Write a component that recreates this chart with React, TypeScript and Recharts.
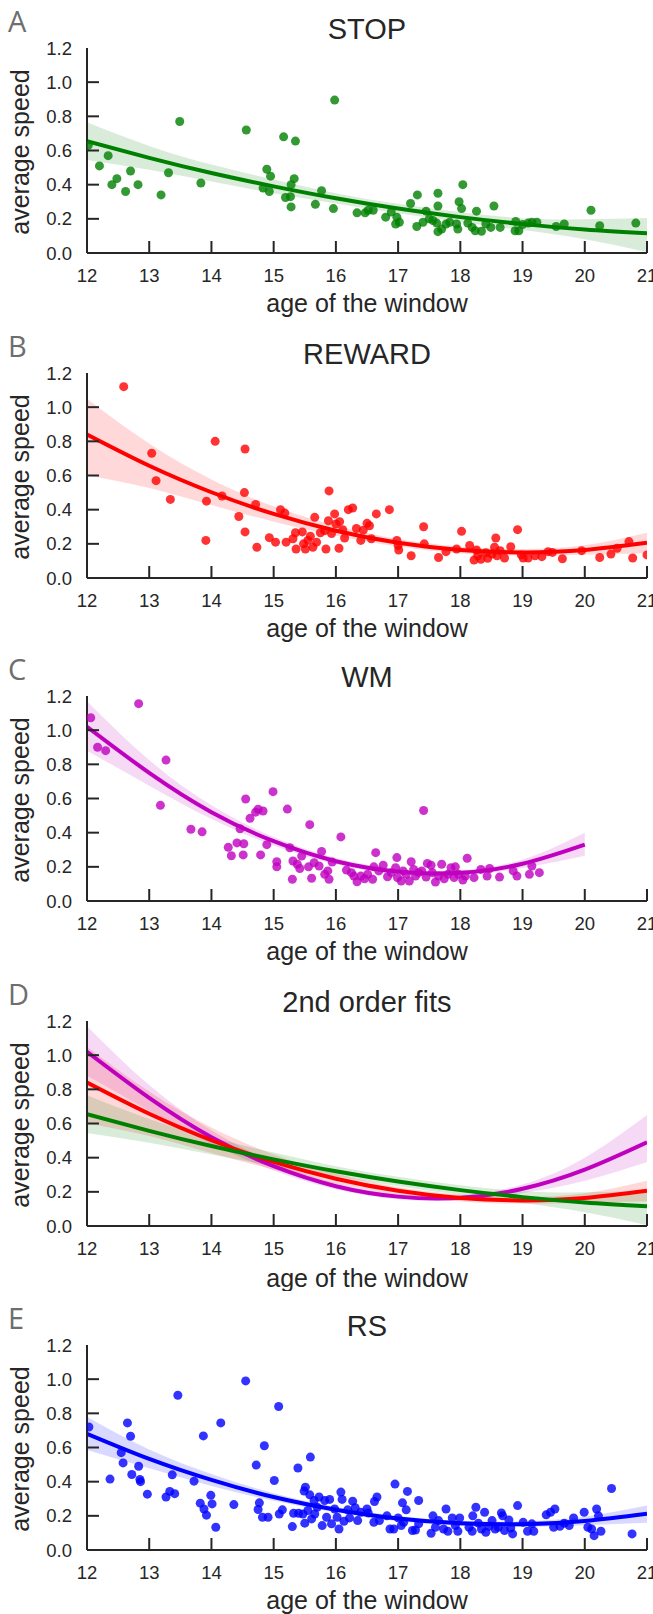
import { ComposedChart, Scatter, Line, Area, XAxis, YAxis } from 'recharts';

// ---- axes ----
const xTicks = [12, 13, 14, 15, 16, 17, 18, 19, 20, 21];
const yTicks = [0, 0.2, 0.4, 0.6, 0.8, 1.0, 1.2];
const fitAges = [12, 13, 14, 15, 16, 17, 18, 19, 20, 21];

// ---- scatter points [age, average speed] ----
const stopPoints = [
  [12.02, 0.63], [12.2, 0.51], [12.34, 0.57], [12.4, 0.4], [12.48, 0.435], [12.62, 0.36], [12.7, 0.48],
  [12.82, 0.4], [13.19, 0.34], [13.31, 0.47], [13.49, 0.77], [13.83, 0.41], [14.56, 0.72], [14.83, 0.38],
  [14.89, 0.49], [14.95, 0.45], [14.93, 0.36], [15.16, 0.68], [15.35, 0.655], [15.19, 0.325], [15.27, 0.33],
  [15.28, 0.4], [15.33, 0.435], [15.28, 0.27], [15.67, 0.285], [15.77, 0.365], [15.96, 0.26], [15.98, 0.895],
  [16.34, 0.235], [16.47, 0.235], [16.52, 0.25], [16.6, 0.25], [16.8, 0.21], [16.89, 0.24], [16.98, 0.21],
  [16.96, 0.17], [17.02, 0.18], [17.2, 0.29], [17.3, 0.155], [17.31, 0.34], [17.4, 0.18], [17.45, 0.245],
  [17.5, 0.2], [17.56, 0.19], [17.62, 0.175], [17.64, 0.35], [17.64, 0.275], [17.64, 0.125], [17.7, 0.14],
  [17.77, 0.17], [17.83, 0.18], [17.94, 0.17], [17.96, 0.14], [17.98, 0.3], [18.02, 0.26], [18.04, 0.4],
  [18.12, 0.175], [18.19, 0.15], [18.26, 0.245], [18.24, 0.13], [18.34, 0.127], [18.41, 0.17], [18.49, 0.15],
  [18.54, 0.275], [18.64, 0.15], [18.88, 0.13], [18.89, 0.185], [18.94, 0.13], [19.0, 0.167], [19.09, 0.175],
  [19.15, 0.18], [19.23, 0.18], [19.54, 0.155], [19.67, 0.17], [20.1, 0.25], [20.24, 0.16], [20.82, 0.175],
];

const rewardPoints = [
  [12.59, 1.12], [13.04, 0.73], [13.11, 0.57], [13.34, 0.46], [13.91, 0.22], [13.92, 0.45], [14.06, 0.8],
  [14.17, 0.48], [14.44, 0.36], [14.54, 0.755], [14.53, 0.5], [14.54, 0.27], [14.71, 0.43], [14.73, 0.18],
  [14.93, 0.236], [15.03, 0.21], [15.11, 0.4], [15.18, 0.38], [15.2, 0.21], [15.31, 0.23], [15.35, 0.265],
  [15.36, 0.17], [15.46, 0.27], [15.48, 0.2], [15.55, 0.22], [15.51, 0.17], [15.59, 0.245], [15.63, 0.18],
  [15.66, 0.355], [15.69, 0.21], [15.75, 0.265], [15.82, 0.277], [15.84, 0.17], [15.88, 0.335], [15.89, 0.51],
  [15.93, 0.26], [15.98, 0.375], [16.0, 0.316], [16.06, 0.33], [16.05, 0.174], [16.11, 0.283], [16.14, 0.234],
  [16.2, 0.4], [16.27, 0.41], [16.33, 0.29], [16.4, 0.22], [16.44, 0.28], [16.5, 0.32], [16.54, 0.306],
  [16.57, 0.23], [16.65, 0.375], [16.86, 0.4], [16.98, 0.22], [17.0, 0.19], [17.01, 0.164], [17.21, 0.13],
  [17.41, 0.3], [17.42, 0.2], [17.65, 0.12], [17.77, 0.154], [17.94, 0.17], [18.02, 0.273], [18.15, 0.19],
  [18.22, 0.105], [18.26, 0.164], [18.28, 0.13], [18.33, 0.11], [18.41, 0.148], [18.44, 0.115], [18.51, 0.14],
  [18.55, 0.18], [18.57, 0.234], [18.59, 0.13], [18.64, 0.16], [18.71, 0.117], [18.81, 0.183], [18.92, 0.283],
  [18.98, 0.135], [19.01, 0.117], [19.09, 0.117], [19.2, 0.13], [19.31, 0.125], [19.41, 0.154], [19.48, 0.15],
  [19.64, 0.113], [19.95, 0.16], [20.24, 0.12], [20.42, 0.14], [20.52, 0.174], [20.71, 0.213], [20.77, 0.117],
  [21.0, 0.135],
];

const wmPoints = [
  [12.06, 1.073], [12.17, 0.9], [12.3, 0.88], [12.83, 1.155], [13.18, 0.56], [13.27, 0.825], [13.67, 0.42],
  [13.85, 0.405], [14.27, 0.314], [14.32, 0.265], [14.41, 0.34], [14.46, 0.423], [14.52, 0.335], [14.51, 0.27],
  [14.55, 0.597], [14.62, 0.484], [14.71, 0.52], [14.75, 0.537], [14.83, 0.527], [14.79, 0.27], [14.89, 0.33],
  [14.99, 0.64], [15.05, 0.23], [15.05, 0.2], [15.22, 0.538], [15.26, 0.312], [15.31, 0.234], [15.3, 0.127],
  [15.38, 0.215], [15.42, 0.19], [15.45, 0.263], [15.56, 0.2], [15.58, 0.447], [15.61, 0.133], [15.65, 0.224],
  [15.73, 0.205], [15.77, 0.29], [15.82, 0.156], [15.87, 0.176], [15.89, 0.127], [15.94, 0.228], [16.08, 0.375],
  [16.17, 0.181], [16.25, 0.166], [16.29, 0.146], [16.34, 0.113], [16.4, 0.146], [16.46, 0.13], [16.51, 0.156],
  [16.59, 0.127], [16.61, 0.2], [16.64, 0.283], [16.69, 0.176], [16.76, 0.209], [16.83, 0.142], [16.89, 0.166],
  [16.96, 0.195], [16.98, 0.254], [16.99, 0.137], [17.05, 0.117], [17.08, 0.176], [17.13, 0.156], [17.18, 0.117],
  [17.21, 0.23], [17.25, 0.185], [17.28, 0.146], [17.33, 0.166], [17.38, 0.176], [17.41, 0.53], [17.45, 0.14],
  [17.47, 0.22], [17.53, 0.209], [17.55, 0.166], [17.6, 0.111], [17.65, 0.146], [17.7, 0.215], [17.74, 0.13],
  [17.8, 0.156], [17.85, 0.195], [17.9, 0.137], [17.92, 0.2], [17.97, 0.156], [18.04, 0.123], [18.08, 0.146],
  [18.11, 0.25], [18.22, 0.137], [18.33, 0.185], [18.43, 0.146], [18.47, 0.19], [18.63, 0.14], [18.85, 0.176],
  [18.91, 0.146], [19.11, 0.156], [19.15, 0.205], [19.27, 0.166],
];

const rsPoints = [
  [12.03, 0.72], [12.37, 0.415], [12.55, 0.57], [12.58, 0.51], [12.65, 0.744], [12.7, 0.666], [12.72, 0.442],
  [12.83, 0.49], [12.85, 0.413], [12.86, 0.4], [12.97, 0.327], [13.27, 0.31], [13.33, 0.343], [13.37, 0.44],
  [13.41, 0.33], [13.46, 0.906], [13.72, 0.403], [13.82, 0.274], [13.87, 0.668], [13.88, 0.24], [13.92, 0.204],
  [13.99, 0.32], [14.01, 0.27], [14.07, 0.133], [14.15, 0.744], [14.36, 0.266], [14.55, 0.99], [14.72, 0.497],
  [14.75, 0.237], [14.77, 0.276], [14.82, 0.192], [14.85, 0.61], [14.91, 0.192], [15.01, 0.407], [15.08, 0.84],
  [15.09, 0.211], [15.14, 0.235], [15.3, 0.137], [15.32, 0.215], [15.39, 0.48], [15.4, 0.215], [15.47, 0.211],
  [15.49, 0.345], [15.5, 0.157], [15.51, 0.368], [15.55, 0.231], [15.58, 0.323], [15.59, 0.544], [15.61, 0.182],
  [15.65, 0.29], [15.66, 0.211], [15.7, 0.25], [15.73, 0.31], [15.78, 0.143], [15.82, 0.29], [15.85, 0.192],
  [15.9, 0.296], [15.93, 0.153], [15.98, 0.24], [16.02, 0.192], [16.05, 0.123], [16.08, 0.339], [16.1, 0.296],
  [16.13, 0.168], [16.19, 0.235], [16.22, 0.188], [16.27, 0.286], [16.31, 0.247], [16.35, 0.172], [16.4, 0.221],
  [16.5, 0.24], [16.52, 0.217], [16.61, 0.162], [16.62, 0.284], [16.66, 0.31], [16.7, 0.172], [16.82, 0.2],
  [16.87, 0.123], [16.93, 0.123], [16.95, 0.386], [17.0, 0.188], [17.05, 0.143], [17.07, 0.276], [17.09, 0.162],
  [17.13, 0.235], [17.15, 0.343], [17.23, 0.114], [17.28, 0.117], [17.33, 0.29], [17.33, 0.153], [17.53, 0.098],
  [17.56, 0.2], [17.6, 0.133], [17.65, 0.172], [17.73, 0.123], [17.77, 0.24], [17.8, 0.11], [17.87, 0.188],
  [17.92, 0.143], [17.96, 0.11], [17.99, 0.188], [18.14, 0.133], [18.19, 0.11], [18.2, 0.2], [18.25, 0.25],
  [18.29, 0.157], [18.34, 0.123], [18.39, 0.221], [18.41, 0.104], [18.46, 0.139], [18.51, 0.172], [18.56, 0.123],
  [18.61, 0.133], [18.66, 0.217], [18.68, 0.2], [18.71, 0.114], [18.78, 0.176], [18.81, 0.129], [18.84, 0.094],
  [18.92, 0.26], [19.01, 0.162], [19.08, 0.11], [19.15, 0.153], [19.18, 0.11], [19.38, 0.206], [19.45, 0.221],
  [19.5, 0.133], [19.52, 0.24], [19.6, 0.139], [19.67, 0.157], [19.75, 0.143], [19.82, 0.188], [19.99, 0.221],
  [20.05, 0.133], [20.11, 0.123], [20.15, 0.084], [20.19, 0.24], [20.22, 0.2], [20.26, 0.11], [20.43, 0.36],
  [20.76, 0.094],
];

// ---- 2nd order fits and their confidence bands, read at each whole year ----
const stopFit = [0.655, 0.557, 0.468, 0.39, 0.32, 0.26, 0.21, 0.169, 0.137, 0.115];
const stopLow = [0.545, 0.487, 0.418, 0.35, 0.29, 0.232, 0.182, 0.134, 0.08, 0.005];
const stopHigh = [0.765, 0.627, 0.518, 0.43, 0.35, 0.288, 0.238, 0.204, 0.197, 0.205];

const rewardFit = [0.84, 0.657, 0.502, 0.375, 0.277, 0.206, 0.164, 0.15, 0.164, 0.206];
const rewardLow = [0.6, 0.527, 0.427, 0.33, 0.247, 0.184, 0.144, 0.13, 0.136, 0.145];
const rewardHigh = [1.05, 0.787, 0.577, 0.42, 0.307, 0.228, 0.184, 0.17, 0.192, 0.265];

const wmFit = [1.02, 0.75, 0.52, 0.35, 0.233, 0.172, 0.165, 0.218, 0.33, 0.49];
const wmLow = [0.88, 0.675, 0.48, 0.325, 0.215, 0.157, 0.15, 0.193, 0.265, 0.375];
const wmHigh = [1.17, 0.825, 0.56, 0.375, 0.251, 0.187, 0.18, 0.243, 0.4, 0.65];

const rsFit = [0.68, 0.533, 0.41, 0.31, 0.236, 0.184, 0.156, 0.151, 0.17, 0.212];
const rsLow = [0.585, 0.478, 0.375, 0.288, 0.219, 0.169, 0.141, 0.134, 0.145, 0.16];
const rsHigh = [0.78, 0.588, 0.445, 0.332, 0.253, 0.199, 0.171, 0.168, 0.195, 0.26];

const GREEN = '#008000';
const RED = '#ff0000';
const MAGENTA = '#bf00bf';
const BLUE = '#0000ff';
const AXIS = '#262626';
const FONT = '"Liberation Sans", Arial, sans-serif';

const W = 653;
const H = 310;
const TOP = 40;
const PLOT_H = 205;
const LEFT = 87;
const RIGHT = 6;
const PAD = 20; // overlay svg starts this far above the chart

const toPoints = (pts: number[][]) => pts.map(([age, speed]) => ({ age, speed }));
const toFit = (fit: number[], lo: number[], hi: number[], n = fitAges.length) =>
  fitAges.slice(0, n).map((age, i) => ({ age, speed: fit[i], band: [lo[i], hi[i]] }));

function XTick({ x, y, payload }: any) {
  return (
    <g>
      <line x1={x} x2={x} y1={y} y2={y - 12} stroke={AXIS} strokeWidth={2} />
      <text x={x} y={y + 28.5} textAnchor="middle" fontSize={18.5} fontFamily={FONT} fill={AXIS}>
        {payload.value}
      </text>
    </g>
  );
}

function YTick({ x, y, payload }: any) {
  const v = payload.value;
  return (
    <g>
      {v > 0 && v < 1.2 && <line x1={x} x2={x + 12} y1={y} y2={y} stroke={AXIS} strokeWidth={2} />}
      <text x={x - 15} y={y + 6.5} textAnchor="end" fontSize={18.5} fontFamily={FONT} fill={AXIS}>
        {v.toFixed(1)}
      </text>
    </g>
  );
}

const dotShape = (color: string) => (props: any) => (
  <circle cx={props.cx} cy={props.cy} r={4.5} fill={color} fillOpacity={0.8} />
);

type Series = { color: string; points?: { age: number; speed: number }[]; fit: any[] };

function Panel({ top, letter, title, series, labelGap = 58.5 }: { top: number; letter: string; title: string; series: Series[]; labelGap?: number }) {
  const cx = LEFT + (W - LEFT - RIGHT) / 2;
  return (
    <div style={{ position: 'absolute', left: 0, top: top - TOP, width: W, height: H }}>
      <ComposedChart width={W} height={H} margin={{ top: TOP, right: RIGHT, bottom: 0, left: 0 }}>
        <XAxis
          type="number"
          dataKey="age"
          domain={[12, 21]}
          ticks={xTicks}
          interval={0}
          allowDataOverflow
          height={H - TOP - PLOT_H}
          tickSize={0}
          tickMargin={0}
          tickLine={false}
          tick={<XTick />}
          axisLine={{ stroke: AXIS, strokeWidth: 2 }}
        />
        <YAxis
          type="number"
          domain={[0, 1.2]}
          ticks={yTicks}
          interval={0}
          allowDataOverflow
          width={LEFT}
          tickSize={0}
          tickMargin={0}
          tickLine={false}
          tick={<YTick />}
          axisLine={{ stroke: AXIS, strokeWidth: 2 }}
        />
        {series.filter((s) => s.points).map((s) => (
          <Scatter
            key={'s' + s.color}
            data={s.points}
            dataKey="speed"
            shape={dotShape(s.color)}
            isAnimationActive={false}
          />
        ))}
        {series.flatMap((s) => [
          <Area
            key={'a' + s.color}
            data={s.fit}
            dataKey="band"
            type="natural"
            stroke="none"
            fill={s.color}
            fillOpacity={0.15}
            dot={false}
            activeDot={false}
            isAnimationActive={false}
          />,
          <Line
            key={'l' + s.color}
            data={s.fit}
            dataKey="speed"
            type="natural"
            stroke={s.color}
            strokeWidth={4}
            dot={false}
            activeDot={false}
            isAnimationActive={false}
          />,
        ])}
      </ComposedChart>
      <svg
        width={W}
        height={H + PAD}
        style={{ position: 'absolute', left: 0, top: -PAD, pointerEvents: 'none' }}
      >
        <g transform={`translate(0, ${PAD})`}>
          <text x={8} y={TOP - 16.5} fontSize={29} fontFamily='"Open Sans", sans-serif' fill="#6e6e6e">
            {letter}
          </text>
          <text x={cx} y={TOP - 9} textAnchor="middle" fontSize={29} fontFamily={FONT} fill={AXIS}>
            {title}
          </text>
          <text x={cx} y={TOP + PLOT_H + labelGap} textAnchor="middle" fontSize={25} fontFamily={FONT} fill={AXIS}>
            age of the window
          </text>
          <text
            transform={`translate(28.5, ${TOP + PLOT_H / 2 + 1.5}) rotate(-90)`}
            textAnchor="middle"
            fontSize={25}
            fontFamily={FONT}
            fill={AXIS}
          >
            average speed
          </text>
        </g>
      </svg>
    </div>
  );
}

export default function App() {
  const stop = toFit(stopFit, stopLow, stopHigh);
  const reward = toFit(rewardFit, rewardLow, rewardHigh);
  const wm = toFit(wmFit, wmLow, wmHigh);
  const rs = toFit(rsFit, rsLow, rsHigh);
  return (
    <div style={{ position: 'absolute', left: 0, top: 0, width: W, height: 1614, overflow: 'hidden', background: '#fff' }}>
      <Panel top={48} letter="A" title="STOP" series={[{ color: GREEN, points: toPoints(stopPoints), fit: stop }]} />
      <Panel top={373} letter="B" title="REWARD" series={[{ color: RED, points: toPoints(rewardPoints), fit: reward }]} />
      <Panel
        top={696}
        letter="C"
        title="WM"
        series={[{ color: MAGENTA, points: toPoints(wmPoints), fit: toFit(wmFit, wmLow, wmHigh, 9) }]}
      />
      <Panel
        top={1021}
        letter="D"
        title="2nd order fits"
        labelGap={60.5}
        series={[
          { color: MAGENTA, fit: wm },
          { color: RED, fit: reward },
          { color: GREEN, fit: stop },
        ]}
      />
      <Panel top={1345} letter="E" title="RS" series={[{ color: BLUE, points: toPoints(rsPoints), fit: rs }]} />
    </div>
  );
}
